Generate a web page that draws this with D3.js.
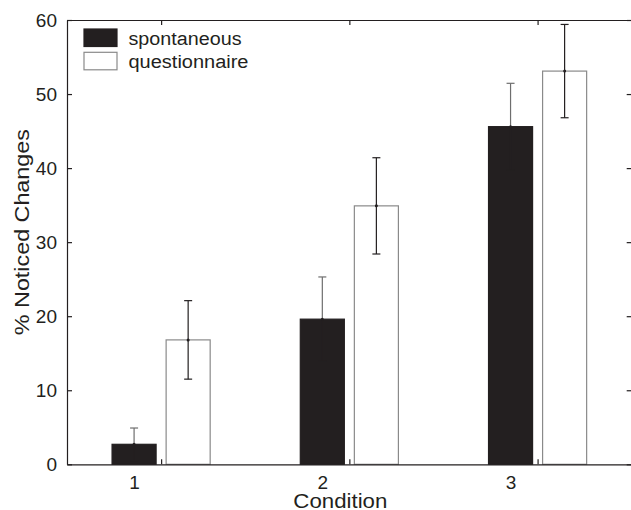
<!DOCTYPE html>
<html>
<head>
<meta charset="utf-8">
<script src="https://cdn.jsdelivr.net/npm/d3@7"></script>
<style>
  body { margin: 0; background: #fff; }
  text { font-family: "Liberation Sans", Arial, Helvetica, sans-serif; fill: #231f20; }
</style>
</head>
<body>
<div id="chart"></div>
<script>
'use strict';

// data
var conditions = [1, 2, 3];
var seriesNames = ['spontaneous', 'questionnaire'];
var spontaneous = [2.7, 19.6, 45.6];
var spontaneousErr = [2.2, 5.7, 5.85];
var questionnaire = [16.8, 34.9, 53.1];
var questionnaireErr = [5.3, 6.5, 6.3];
var yTicks = [0, 10, 20, 30, 40, 50, 60];

var grafico = {};
grafico.margins = {top: 20, bottom: 45.7, left: 67, right: -0.7};
grafico.w = 631;
grafico.h = 510;
grafico.cw = grafico.w - grafico.margins.left - grafico.margins.right;
grafico.ch = grafico.h - grafico.margins.top - grafico.margins.bottom;
grafico.barW = 0.234;   // in condition units
grafico.offset = 0.1436;
grafico.cores = {spontaneous: '#231f20', questionnaire: '#ffffff'};

var svg = d3.select('#chart').append('svg')
    .attr('width', grafico.w)
    .attr('height', grafico.h);

var x = d3.scaleLinear().domain([0.5, 3.5]).range([0, grafico.cw]);
var y = d3.scaleLinear().domain([0, 60]).range([grafico.ch, 0]);

var g = svg.append('g')
    .attr('transform', 'translate(' + grafico.margins.left + ',' + grafico.margins.top + ')');

// bars
var dados = [];
for (var i = 0; i < conditions.length; i++) {
    dados.push({c: conditions[i], v: spontaneous[i], e: spontaneousErr[i], s: 'spontaneous', dx: -grafico.offset});
    dados.push({c: conditions[i], v: questionnaire[i], e: questionnaireErr[i], s: 'questionnaire', dx: grafico.offset});
}

g.selectAll('.bar')
    .data(dados)
    .enter()
    .append('rect')
    .attr('class', 'bar')
    .attr('x', function(d){ return x(d.c + d.dx - grafico.barW / 2); })
    .attr('width', function(d){ return x(grafico.barW) - x(0); })
    .attr('y', function(d){ return y(d.v); })
    .attr('height', function(d){ return y(0) - y(d.v); })
    .style('fill', function(d){ return grafico.cores[d.s]; })
    .style('stroke', function(d){ return d.s == 'spontaneous' ? '#231f20' : '#8a8a8a'; })
    .style('stroke-width', 1.2);

// error bars (the lower half disappears inside the dark bars)
var erro = g.selectAll('.err')
    .data(dados)
    .enter()
    .append('g')
    .attr('class', 'err')
    .style('stroke-width', 1.2);
erro.append('line')
    .attr('x1', function(d){ return x(d.c + d.dx); })
    .attr('x2', function(d){ return x(d.c + d.dx); })
    .attr('y1', function(d){ return y(d.v); })
    .attr('y2', function(d){ return y(d.v + d.e); })
    .style('stroke', function(d){ return d.s == 'spontaneous' ? '#6e6e6e' : '#231f20'; });
erro.append('line')
    .attr('x1', function(d){ return x(d.c + d.dx) - 4; })
    .attr('x2', function(d){ return x(d.c + d.dx) + 4; })
    .attr('y1', function(d){ return y(d.v + d.e); })
    .attr('y2', function(d){ return y(d.v + d.e); })
    .style('stroke', function(d){ return d.s == 'spontaneous' ? '#6e6e6e' : '#231f20'; });
erro.append('line')
    .attr('x1', function(d){ return x(d.c + d.dx); })
    .attr('x2', function(d){ return x(d.c + d.dx); })
    .attr('y1', function(d){ return y(d.v); })
    .attr('y2', function(d){ return y(Math.max(d.v - d.e, 0.2)); })
    .style('stroke', '#231f20');
erro.append('line')
    .attr('x1', function(d){ return x(d.c + d.dx) - 4; })
    .attr('x2', function(d){ return x(d.c + d.dx) + 4; })
    .attr('y1', function(d){ return y(d.v - d.e); })
    .attr('y2', function(d){ return y(d.v - d.e); })
    .style('stroke', '#231f20');
erro.append('circle')
    .attr('cx', function(d){ return x(d.c + d.dx); })
    .attr('cy', function(d){ return y(d.v); })
    .attr('r', 1.5)
    .style('fill', '#231f20')
    .style('stroke', 'none');

// axes, ticks pointing inwards
var yAxisL = d3.axisLeft(y).tickValues(yTicks).tickSizeInner(-5).tickSizeOuter(0).tickPadding(10);
var yAxisR = d3.axisRight(y).tickValues(yTicks).tickSizeInner(-5).tickSizeOuter(0).tickFormat('');
var xAxisB = d3.axisBottom(x).tickValues(conditions).tickSizeInner(-5).tickSizeOuter(0).tickPadding(11).tickFormat(d3.format('d'));
var xAxisT = d3.axisTop(x).tickValues(conditions).tickSizeInner(-5).tickSizeOuter(0).tickFormat('');

g.append('g').attr('class', 'axis').call(yAxisL);
g.append('g').attr('class', 'axis').attr('transform', 'translate(' + grafico.cw + ',0)').call(yAxisR);
g.append('g').attr('class', 'axis xb').attr('transform', 'translate(0,' + grafico.ch + ')').call(xAxisB);
g.append('g').attr('class', 'axis').call(xAxisT);

g.selectAll('.axis path, .axis line').style('stroke', '#231f20').style('stroke-width', 1.2);
g.selectAll('.axis text')
    .style('font-family', '"Liberation Sans", Arial, sans-serif')
    .style('font-size', '19px')
    .style('fill', '#231f20');
// condition labels sit under the first bar of each group
g.selectAll('.xb .tick text')
    .attr('x', x(1 - grafico.offset) - x(1));

// axis titles
g.append('text')
    .attr('x', x(2) - 9)
    .attr('y', grafico.ch + 43.5)
    .attr('text-anchor', 'middle')
    .attr('textLength', 94)
    .attr('lengthAdjust', 'spacingAndGlyphs')
    .style('font-size', '20px')
    .text('Condition');

g.append('text')
    .attr('transform', 'translate(' + (-38) + ',' + (y(30) - 10) + ') rotate(-90)')
    .attr('text-anchor', 'middle')
    .attr('textLength', 206)
    .attr('lengthAdjust', 'spacingAndGlyphs')
    .style('font-size', '21px')
    .text('% Noticed Changes');

// legend
var legenda = g.append('g').attr('transform', 'translate(17,9)');
var lw = [113, 120];
var item = legenda.selectAll('.item')
    .data(seriesNames)
    .enter()
    .append('g')
    .attr('class', 'item')
    .attr('transform', function(d, i){ return 'translate(0,' + (i * 23.3) + ')'; });
item.append('rect')
    .attr('width', 33)
    .attr('height', 17.5)
    .style('fill', function(d){ return grafico.cores[d]; })
    .style('stroke', function(d){ return d == 'spontaneous' ? '#231f20' : '#8a8a8a'; })
    .style('stroke-width', 1.2);
item.append('text')
    .attr('x', 44.5)
    .attr('y', 16)
    .attr('textLength', function(d, i){ return lw[i]; })
    .attr('lengthAdjust', 'spacingAndGlyphs')
    .style('font-size', '18px')
    .text(function(d){ return d; });
</script>
</body>
</html>
